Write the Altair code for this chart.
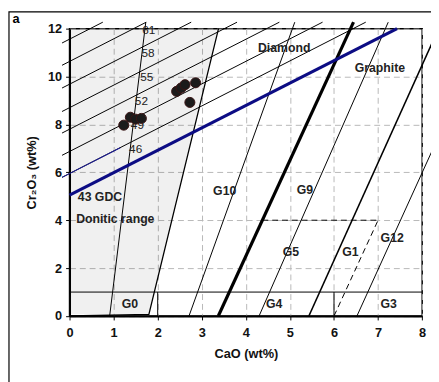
import altair as alt
import pandas as pd

# ---------------- data ----------------
# garnet analyses (CaO wt%, Cr2O3 wt%)
pt_cao = [1.23, 1.38, 1.50, 1.63, 2.43, 2.53, 2.62, 2.86, 2.73]
pt_cr = [7.97, 8.30, 8.22, 8.25, 9.38, 9.52, 9.66, 9.74, 8.92]

# isobars 46..64 (thin, parallel to the GDC line) : start / end points
iso_start_cao = [-0.17, -0.17, -0.17, -0.17, -0.17, -0.17, -0.17]
iso_start_cr = [5.79, 6.71, 7.64, 8.54, 9.52, 10.47, 11.40]
iso_end_cao = [6.72, 5.74, 4.76, 3.80, 2.76, 1.74, 0.755]
iso_end_cr = [12.27, 12.27, 12.27, 12.27, 12.27, 12.27, 12.27]

# blue part of the 46 isobar
blue46_cao = [-0.17, 1.15]
blue46_cr = [5.79, 7.03]

# graphite-diamond constraint (43 GDC)
gdc_cao = [0.0, 7.43]
gdc_cr = [5.05, 12.0]

# thin slanted lines
sl_start_cao = [0.91, 2.71, 4.30, 6.52]
sl_start_cr = [0.0, 0.0, 0.0, 0.0]
sl_end_cao = [1.73, 5.11, 7.23, 8.25]
sl_end_cr = [12.27, 12.27, 12.27, 7.0]

# G1 / G12 line (medium)
g1_cao = [5.43, 8.25]
g1_cr = [0.0, 11.5]

# G10 / G9 divider (thick)
g10_cao = [3.375, 6.4425]
g10_cr = [0.0, 12.27]

# donitic range boundary
don_cao = [0.0, 1.8, 3.38]
don_cr = [0.0, 0.07, 12.0]

# thin straight lines: Cr2O3 = 1 and the two short verticals
hz_cao = [0.0, 8.0]
hz_cr = [1.0, 1.0]
v2_cao = [2.0, 2.0]
v2_cr = [0.0, 1.0]
v6_cao = [6.0, 6.0]
v6_cr = [0.0, 1.0]

# dashed lines
dh_cao = [4.375, 7.0]
dh_cr = [4.0, 4.0]
ds_cao = [6.0, 7.0]
ds_cr = [0.0, 4.0]

# labels
bold_text = ["Diamond", "Graphite", "G10", "G9", "G5", "G1", "G12", "G4", "G3", "G0", "43 GDC"]
bold_cao = [4.87, 7.04, 3.52, 5.34, 5.02, 6.37, 7.32, 4.64, 7.24, 1.37, 0.69]
bold_cr = [11.17, 10.35, 5.22, 5.25, 2.69, 2.69, 3.25, 0.48, 0.48, 0.48, 4.98]

iso_text = ["61", "58", "55", "52", "49", "46"]
iso_cao = [1.80, 1.78, 1.75, 1.63, 1.54, 1.50]
iso_cr = [11.95, 11.0, 9.97, 8.99, 7.99, 6.99]

x_ticks = [0, 1, 2, 3, 4, 5, 6, 7, 8]
y_ticks = [0, 2, 4, 6, 8, 10, 12]

FONT = "Liberation Sans"

# ---------------- chart ----------------
xscale = alt.Scale(domain=[0, 8], nice=False)
yscale = alt.Scale(domain=[0, 12], nice=False)

x_axis = alt.Axis(values=x_ticks, title="CaO (wt%)", grid=True, gridDash=[6, 4],
                  gridColor="#b8b8b8", gridWidth=1, domainColor="black", domainWidth=2,
                  tickColor="black", tickSize=4, tickWidth=1, labelFont=FONT,
                  labelFontSize=13, labelFontWeight="bold", labelColor="#111",
                  labelPadding=7, titleFont=FONT, titleFontSize=13,
                  titleFontWeight="bold", titleColor="#111", titlePadding=8,
                  labelFlush=False)
y_axis = alt.Axis(values=y_ticks, title="Cr₂O₃ (wt%)", grid=True, gridDash=[6, 4],
                  gridColor="#b8b8b8", gridWidth=1, domainColor="black", domainWidth=2,
                  tickColor="black", tickSize=4, tickWidth=1, labelFont=FONT,
                  labelFontSize=13, labelFontWeight="bold", labelColor="#111",
                  labelPadding=4, titleFont=FONT, titleFontSize=13,
                  titleFontWeight="bold", titleColor="#111", titlePadding=9,
                  labelFlush=False)


def X():
    return alt.X("x:Q", scale=xscale, axis=x_axis)


def Y():
    return alt.Y("y:Q", scale=yscale, axis=y_axis)


def seg(xs, ys, **kw):
    df = pd.DataFrame({"x": xs, "y": ys, "o": list(range(len(xs)))})
    return alt.Chart(df).mark_line(clip=False, **kw).encode(x=X(), y=Y(), order="o:Q")


def multiseg(x0, y0, x1, y1, **kw):
    rows = []
    for i in range(len(x0)):
        rows.append({"x": x0[i], "y": y0[i], "g": i, "o": 0})
        rows.append({"x": x1[i], "y": y1[i], "g": i, "o": 1})
    df = pd.DataFrame(rows)
    return alt.Chart(df).mark_line(clip=False, **kw).encode(
        x=X(), y=Y(), detail="g:N", order="o:Q")


# shaded donitic range (horizontal area from CaO=0 to the boundary)
shade_df = pd.DataFrame({"y": don_cr[1:], "x": don_cao[1:], "x0": [0.0, 0.0]})
shade = alt.Chart(shade_df).mark_area(orient="horizontal", color="black",
                                      opacity=0.06).encode(
    y=Y(), x=X(), x2="x0:Q")

layers = [
    shade,
    seg(don_cao, don_cr, color="black", strokeWidth=1.3),
    multiseg(iso_start_cao, iso_start_cr, iso_end_cao, iso_end_cr, color="black", strokeWidth=1),
    seg(blue46_cao, blue46_cr, color="#1f1f9a", strokeWidth=1.1),
    multiseg(sl_start_cao, sl_start_cr, sl_end_cao, sl_end_cr, color="black", strokeWidth=1),
    seg(g1_cao, g1_cr, color="black", strokeWidth=1.6),
    seg(hz_cao, hz_cr, color="black", strokeWidth=1),
    seg(v2_cao, v2_cr, color="black", strokeWidth=1),
    seg(v6_cao, v6_cr, color="black", strokeWidth=1),
    seg(dh_cao, dh_cr, color="black", strokeWidth=1, strokeDash=[6, 4]),
    seg(ds_cao, ds_cr, color="black", strokeWidth=1, strokeDash=[6, 4]),
    seg(g10_cao, g10_cr, color="black", strokeWidth=3.2),
    seg(gdc_cao, gdc_cr, color="#0c0c84", strokeWidth=3.2),
]

iso_df = pd.DataFrame({"x": iso_cao, "y": iso_cr, "t": iso_text})
layers.append(alt.Chart(iso_df).mark_text(font=FONT, fontSize=12, color="#222").encode(
    x=X(), y=Y(), text="t:N"))

pts_df = pd.DataFrame({"x": pt_cao, "y": pt_cr})
layers.append(alt.Chart(pts_df).mark_point(filled=True, size=105, color="#1b1b1b",
                                           stroke="#3a1414", strokeWidth=1,
                                           opacity=1).encode(x=X(), y=Y()))

bold_df = pd.DataFrame({"x": bold_cao, "y": bold_cr, "t": bold_text})
layers.append(alt.Chart(bold_df).mark_text(font=FONT, fontSize=12.5, fontWeight="bold",
                                           color="#222").encode(x=X(), y=Y(), text="t:N"))

don_df = pd.DataFrame({"x": [0.15], "y": [4.06], "t": ["Donitic range"]})
layers.append(alt.Chart(don_df).mark_text(font=FONT, fontSize=12.5, fontWeight="bold",
                                          color="#222", align="left").encode(
    x=X(), y=Y(), text="t:N"))

# outer panel frame and panel letter
one = pd.DataFrame({"k": [0]})
layers.append(alt.Chart(one).mark_rect(fill=None, stroke="black", strokeWidth=1.2,
                                       clip=False).encode(
    x=alt.value(-61.7), x2=alt.value(420), y=alt.value(-17), y2=alt.value(400)))
layers.append(alt.Chart(one).mark_text(text="a", font=FONT, fontSize=13, fontWeight="bold",
                                       color="black", clip=False).encode(
    x=alt.value(-54.5), y=alt.value(-9.5)))

chart = alt.layer(*layers).properties(
    width=359.3, height=292.8,
    autosize=alt.AutoSizeParams(type="none"),
    padding={"left": 62.7, "top": 17.5, "right": 9, "bottom": 63.7},
).configure_view(stroke="black", strokeWidth=1.5)

chart.save("out.html", embed_options={"renderer": "svg", "actions": False})
